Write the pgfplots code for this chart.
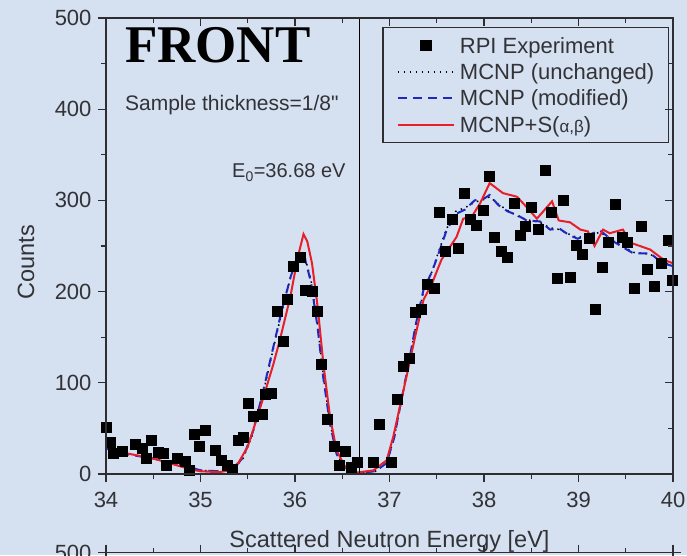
\documentclass[border=0pt]{standalone}
\usepackage{fontspec}
\setmainfont{Liberation Sans}
\newfontfamily\serifbf{Liberation Serif}
\usepackage{pgfplots}
\pgfplotsset{compat=1.18}
\definecolor{bgblue}{RGB}{213,225,240}
\definecolor{axgray}{RGB}{45,45,50}
\definecolor{txgray}{RGB}{50,50,55}
\definecolor{cred}{RGB}{232,30,40}
\definecolor{cblue}{RGB}{30,40,190}
\newcommand{\fs}[1]{\fontsize{#1}{#1}\selectfont}
\pgfplotsset{
  panel/.style={
    scale only axis, width=567pt, height=456pt,
    xmin=34, xmax=40, ymin=0, ymax=500,
    xtick={34,35,...,40}, ytick={0,100,...,500},
    minor x tick num=1, minor y tick num=1,
    major tick length=8pt, minor tick length=5pt,
    axis line style={axgray, line width=1.3pt},
    every tick/.style={axgray, line width=1.3pt},
    ticklabel style={font=\fs{22}, text=txgray},
    xticklabel style={yshift=-7pt},
    yticklabel style={xshift=-3pt},
    /pgf/number format/assume math mode=true,
  }
}
\begin{document}
\begin{tikzpicture}
\useasboundingbox (0,0) rectangle (687pt,555pt);
\fill[bgblue] (0,0) rectangle (687pt,555pt);
\clip (0,0) rectangle (687pt,555pt);
% lower (cut) panel
\begin{axis}[panel, at={(106pt,2.5pt)}, anchor=north west,
  tick align=outside, xticklabels={}]
\end{axis}
\begin{axis}[panel, at={(106pt,81pt)}, anchor=south west,
  tick align=outside, tick pos=left,
  xlabel={Scattered Neutron Energy [eV]}, ylabel={Counts},
  label style={font=\fs{23.5}, text=txgray},
  xlabel style={at={(axis description cs:0.5,-0.162)}, anchor=base},
  ylabel style={at={(axis description cs:-0.141,0.465)}, anchor=center},
  legend image code/.code={\draw[mark repeat=2,mark phase=2,#1] plot coordinates {(0pt,0pt) (28pt,0pt) (56pt,0pt)};},
  legend style={at={(1,1)}, anchor=north east, xshift=-4pt, yshift=-9pt,
    draw=axgray, line width=1.3pt, fill=none, inner xsep=14pt, inner ysep=6.5pt,
    font=\fs{22}, text=txgray, row sep=3.3pt, column sep=5pt,
    nodes={inner sep=0pt, text height=19pt, text depth=4pt}},
  legend cell align=left,
]
\addplot[only marks, mark=square*, mark size=5pt, black] coordinates {
(34.00,50.8) (34.04,35.4) (34.08,22.7) (34.17,24.5) (34.31,33) (34.38,28)
(34.43,17) (34.48,37) (34.55,24) (34.61,23) (34.64,10) (34.75,17)
(34.84,13.5) (34.88,4) (34.93,44) (34.99,30) (35.05,47.5) (35.16,26)
(35.22,15) (35.28,10) (35.34,5) (35.40,37) (35.45,40) (35.51,77.5)
(35.56,63.6) (35.65,65.4) (35.68,87) (35.75,89) (35.81,178) (35.87,146)
(35.92,191.5) (35.98,228) (36.05,237.6) (36.11,201.7) (36.18,200) (36.24,179)
(36.28,120) (36.34,60) (36.41,30.7) (36.47,10) (36.53,24.5) (36.59,8)
(36.66,12.8) (36.83,12.8) (36.89,55) (37.02,13) (37.08,82) (37.15,118)
(37.21,127) (37.27,177) (37.34,181) (37.40,208) (37.47,203.6) (37.53,287.6)
(37.59,244.5) (37.66,279.6) (37.73,248) (37.79,307.8) (37.85,279.6) (37.92,273)
(37.99,289.5) (38.06,327) (38.11,259.5) (38.18,244.5) (38.25,237.6) (38.32,296.8)
(38.38,262) (38.44,272) (38.50,293) (38.57,268.6) (38.65,333) (38.71,287)
(38.77,214.6) (38.84,299.7) (38.91,216) (38.98,251) (39.04,241) (39.11,258.4)
(39.18,180.6) (39.25,226.6) (39.31,253.7) (39.39,296) (39.46,259.5) (39.51,254.7)
(39.59,203.6) (39.66,272) (39.73,224.8) (39.80,205.4) (39.88,231) (39.95,256.6)
(39.99,212.7)
};
\addlegendentry{RPI Experiment}
\addplot[black, line width=1.5pt, dash pattern=on 1.5pt off 4.5pt] coordinates {
(34.00,29) (34.20,23) (34.50,17) (34.80,10) (35.00,4) (35.20,3) (35.35,6)
(35.45,17) (35.55,43) (35.65,83) (35.75,128) (35.85,173) (35.95,214) (36.03,241)
(36.10,240) (36.17,212) (36.24,162) (36.30,107) (36.37,56) (36.44,23) (36.52,7)
(36.65,1) (36.85,3) (36.97,12) (37.05,40) (37.12,77) (37.20,118) (37.28,163)
(37.36,200) (37.45,222) (37.52,244) (37.60,268) (37.70,288) (37.80,292) (37.90,298)
(38.00,301) (38.06,304) (38.15,296) (38.25,289) (38.35,283) (38.45,279) (38.59,276)
(38.70,270) (38.80,268) (38.90,263) (38.99,259) (39.10,262) (39.23,265) (39.37,256)
(39.48,249) (39.58,243) (39.76,241) (39.89,232) (40.00,229)
};
\addlegendentry{MCNP (unchanged)}
\addplot[cblue, line width=2pt, dash pattern=on 9pt off 6pt] coordinates {
(34.00,28) (34.20,22) (34.50,17) (34.80,10) (35.00,4) (35.20,3) (35.35,6)
(35.45,18) (35.55,45) (35.65,85) (35.75,130) (35.85,175) (35.95,215) (36.03,240)
(36.10,238) (36.17,210) (36.24,160) (36.30,105) (36.37,55) (36.44,22) (36.52,7)
(36.65,1) (36.85,3) (36.97,12) (37.05,40) (37.12,78) (37.20,120) (37.28,165)
(37.36,202) (37.45,222) (37.52,242) (37.60,266) (37.70,285) (37.80,290) (37.90,300)
(38.00,302) (38.06,306) (38.15,295) (38.25,288) (38.35,284) (38.45,278) (38.59,277)
(38.70,268) (38.80,269) (38.90,262) (38.99,258) (39.10,262) (39.23,267) (39.37,255)
(39.48,248) (39.58,242) (39.76,242) (39.89,231) (40.00,228)
};
\addlegendentry{MCNP (modified)}
\addplot[cred, line width=2pt] coordinates {
(34.00,32) (34.10,25) (34.30,21) (34.50,17) (34.70,11) (34.90,5) (35.00,3)
(35.20,2) (35.30,4) (35.40,12) (35.50,30) (35.60,62) (35.68,89) (35.77,120)
(35.84,147) (35.95,194) (36.03,238) (36.09,263) (36.13,255) (36.18,231) (36.24,183)
(36.30,121) (36.37,63) (36.44,26) (36.53,8) (36.65,1.5) (36.83,4) (36.97,15)
(37.04,41) (37.11,74) (37.18,107) (37.27,150) (37.36,191) (37.45,209) (37.55,235)
(37.64,249) (37.71,260) (37.78,280) (37.87,282) (37.96,297) (38.06,319) (38.20,308)
(38.35,304) (38.43,295) (38.56,280) (38.72,299) (38.79,278) (38.91,276) (39.02,268)
(39.10,266) (39.17,250) (39.26,268) (39.33,264) (39.47,268) (39.54,254) (39.76,246)
(39.90,235) (40.00,231)
};
\addlegendentry{MCNP+S({\fs{17}α,β})}
\addplot[black, line width=1pt, forget plot] coordinates {(36.68,0) (36.68,500)};
\node[anchor=base west, inner sep=0pt, font=\fs{53}\serifbf\bfseries, text=black] at (axis cs:34.20,450.7) {FRONT};
\node[anchor=base west, inner sep=0pt, font=\fs{21}, text=txgray] at (axis cs:34.20,399) {Sample thickness=1/8{\addfontfeatures{Ligatures=TeXOff}"}};
\node[anchor=base west, inner sep=0pt, font=\fs{20}, text=txgray] at (axis cs:35.333,324.6) {E\textsubscript{0}=36.68 eV};
\end{axis}
% top/right inward ticks
\begin{axis}[panel, at={(106pt,81pt)}, anchor=south west,
  tick align=inside, tick pos=right, xticklabels={}, yticklabels={}]
\end{axis}
\end{tikzpicture}
\end{document}
